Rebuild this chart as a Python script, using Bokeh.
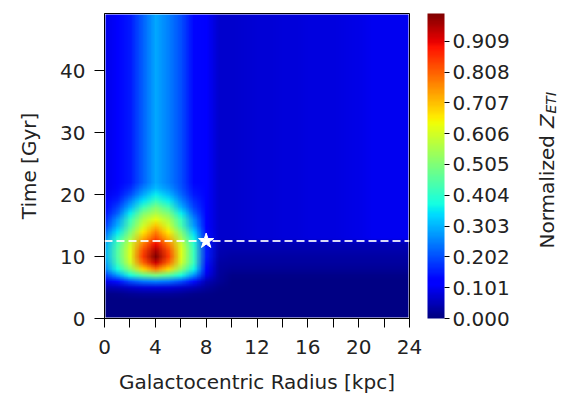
import base64
import struct
import zlib

import numpy as np
from bokeh.plotting import figure
from bokeh.layouts import row
from bokeh.models import LinearColorMapper, ColorBar, FixedTicker, Span, PrintfTickFormatter
from bokeh.core.properties import value
from bokeh.embed import file_html
from bokeh.resources import INLINE

# ---------------- data ----------------
radius_kpc = list(range(25))          # cell centres, kpc
time_gyr = list(range(51))            # cell centres, Gyr

# normalized Z_ETI at late times (t >= 22 Gyr), per radius 0..24
upper_profile = [0.09, 0.12, 0.15, 0.22, 0.29, 0.25, 0.2, 0.13, 0.11, 0.068,
                 0.068, 0.072, 0.075, 0.078, 0.08, 0.082, 0.083, 0.084, 0.085,
                 0.088, 0.092, 0.098, 0.10, 0.10, 0.098]

# outer disc (r >= 10 kpc) for t = 0..12 Gyr
outer_low_by_time = [0.005, 0.005, 0.005, 0.005, 0.005, 0.005, 0.005,
                     0.01, 0.02, 0.03, 0.035, 0.04, 0.045]

# inner disc (r = 0..9 kpc) for t = 0..21 Gyr
inner_rows = {
    0: [0.005] * 10,
    1: [0.005] * 10,
    2: [0.005] * 10,
    3: [0.005] * 10,
    4: [0.01, 0.015, 0.02, 0.025, 0.025, 0.025, 0.02, 0.015, 0.01, 0.005],
    5: [0.04, 0.05, 0.065, 0.075, 0.08, 0.075, 0.065, 0.05, 0.025, 0.01],
    6: [0.09, 0.14, 0.2, 0.24, 0.25, 0.24, 0.2, 0.14, 0.05, 0.02],
    7: [0.18, 0.28, 0.38, 0.46, 0.5, 0.46, 0.38, 0.27, 0.09, 0.025],
    8: [0.25, 0.38, 0.52, 0.68, 0.78, 0.68, 0.52, 0.37, 0.12, 0.03],
    9: [0.28, 0.43, 0.6, 0.8, 0.93, 0.8, 0.6, 0.42, 0.14, 0.035],
    10: [0.3, 0.45, 0.62, 0.85, 1.0, 0.85, 0.62, 0.42, 0.15, 0.04],
    11: [0.3, 0.45, 0.62, 0.83, 0.96, 0.83, 0.62, 0.42, 0.15, 0.045],
    12: [0.29, 0.43, 0.6, 0.78, 0.9, 0.78, 0.6, 0.4, 0.15, 0.05],
    13: [0.26, 0.4, 0.55, 0.72, 0.83, 0.72, 0.55, 0.37, 0.14, 0.068],
    14: [0.22, 0.35, 0.5, 0.66, 0.77, 0.66, 0.5, 0.33, 0.13, 0.068],
    15: [0.18, 0.3, 0.45, 0.6, 0.7, 0.6, 0.44, 0.28, 0.12, 0.068],
    16: [0.16, 0.27, 0.42, 0.56, 0.63, 0.56, 0.42, 0.26, 0.12, 0.068],
    17: [0.14, 0.22, 0.36, 0.5, 0.56, 0.5, 0.36, 0.22, 0.12, 0.068],
    18: [0.12, 0.19, 0.3, 0.42, 0.5, 0.43, 0.3, 0.19, 0.12, 0.068],
    19: [0.11, 0.16, 0.25, 0.35, 0.42, 0.36, 0.26, 0.17, 0.11, 0.068],
    20: [0.1, 0.14, 0.2, 0.29, 0.36, 0.31, 0.23, 0.15, 0.11, 0.068],
    21: [0.09, 0.13, 0.17, 0.25, 0.31, 0.27, 0.21, 0.14, 0.11, 0.068],
}

present_time_gyr = [12.5]
sun_radius_kpc = [8.0]

x_ticks = [0, 4, 8, 12, 16, 20, 24]
x_minor_ticks = [2, 6, 10, 14, 18, 22]
y_ticks = [0, 10, 20, 30, 40]
cbar_ticks = [0.000, 0.101, 0.202, 0.303, 0.404, 0.505, 0.606, 0.707, 0.808, 0.909]

# ---------------- build field table ----------------
field = np.zeros((len(time_gyr), len(radius_kpc)))
for t in time_gyr:
    for r in radius_kpc:
        if t >= 22:
            v = upper_profile[r]
        elif r <= 9:
            v = inner_rows[t][r]
        elif t >= 13:
            v = upper_profile[r]
        else:
            v = outer_low_by_time[t]
        field[t, r] = v

# jet colormap
xs = np.linspace(0, 1, 256)
rr = np.interp(xs, [0, 0.35, 0.66, 0.89, 1], [0, 0, 1, 1, 0.5])
gg = np.interp(xs, [0, 0.125, 0.375, 0.64, 0.91, 1], [0, 0, 1, 1, 0, 0])
bb = np.interp(xs, [0, 0.11, 0.34, 0.65, 1], [0.5, 1, 1, 0, 0])
jet_rgb = [(int(round(a * 255)), int(round(b * 255)), int(round(c * 255))) for a, b, c in zip(rr, gg, bb)]
jet = ["#%02x%02x%02x" % c for c in jet_rgb]

mapper = LinearColorMapper(palette=jet, low=0.0, high=1.0)


# colour the field cells with the same jet mapping and wrap them in a PNG
def field_png(arr):
    h, w = arr.shape
    rows = []
    for i in range(h - 1, -1, -1):          # top row = latest time
        line = bytearray([0])
        for j in range(w):
            idx = int(min(255, max(0, np.floor(arr[i, j] * 256))))
            line.extend(jet_rgb[idx])
        rows.append(bytes(line))
    raw = b"".join(rows)

    def chunk(tag, data):
        return (struct.pack(">I", len(data)) + tag + data +
                struct.pack(">I", zlib.crc32(tag + data) & 0xFFFFFFFF))

    ihdr = struct.pack(">IIBBBBB", w, h, 8, 2, 0, 0, 0)
    png = (b"\x89PNG\r\n\x1a\n" + chunk(b"IHDR", ihdr) +
           chunk(b"IDAT", zlib.compress(raw, 9)) + chunk(b"IEND", b""))
    return "data:image/png;base64," + base64.b64encode(png).decode("ascii")


FONT = "DejaVu Sans"
TXT = "#222222"
FS = "20px"

p = figure(width=534, height=397, x_range=(0, 24), y_range=(0, 49.2),
           output_backend="svg", toolbar_location=None,
           min_border_left=104, min_border_top=13, min_border_right=125, min_border_bottom=79)

p.image_url(url=[field_png(field)], x=radius_kpc[0] - 0.5, y=time_gyr[-1] + 0.5,
            w=len(radius_kpc), h=len(time_gyr), anchor="top_left")

p.add_layout(Span(location=present_time_gyr[0], dimension="width", line_color="white",
                  line_alpha=0.85, line_width=2, line_dash="8 4"))
p.scatter(x=sun_radius_kpc, y=present_time_gyr, marker="star", size=16,
          fill_color="white", line_color="white")

p.grid.visible = False
p.outline_line_color = "black"
p.outline_line_width = 1
p.background_fill_color = "white"

for ax in (p.xaxis[0], p.yaxis[0]):
    ax.axis_line_color = "black"
    ax.major_tick_line_color = "black"
    ax.minor_tick_line_color = "black"
    ax.major_tick_in = 0
    ax.minor_tick_in = 0
    ax.major_label_text_font = FONT
    ax.major_label_text_font_size = FS
    ax.major_label_text_color = TXT
    ax.axis_label_text_font = FONT
    ax.axis_label_text_font_size = FS
    ax.axis_label_text_font_style = "normal"
    ax.axis_label_text_color = TXT

p.xaxis.ticker = FixedTicker(ticks=x_ticks, minor_ticks=x_minor_ticks)
p.xaxis.major_tick_out = 9
p.xaxis.minor_tick_out = 9
p.xaxis.major_label_standoff = 12
p.xaxis.axis_label = "Galactocentric Radius [kpc]"
p.xaxis.axis_label_standoff = 13

p.yaxis.ticker = FixedTicker(ticks=y_ticks, minor_ticks=[])
p.yaxis.major_tick_out = 10
p.yaxis.major_label_standoff = 9
p.yaxis.axis_label = "Time [Gyr]"
p.yaxis.axis_label_standoff = 16

cb = ColorBar(color_mapper=mapper, ticker=FixedTicker(ticks=cbar_ticks, minor_ticks=[]),
              formatter=PrintfTickFormatter(format="%.3f"),
              location=(323, 0), width=17, height=305, margin=0, padding=0,
              major_tick_out=5, major_tick_in=0, major_tick_line_color="black",
              label_standoff=3, bar_line_color=None, border_line_color=None,
              background_fill_alpha=0,
              major_label_text_font=FONT, major_label_text_font_size=FS,
              major_label_text_color=TXT)
p.add_layout(cb, "center")

# strip on the right holding the rotated colour-bar title "Normalized Z_ETI"
# (its frame is aligned with the main frame: 1 unit = 1 px up from the frame bottom)
q = figure(width=44, height=397, x_range=(0, 44), y_range=(0, 305),
           output_backend="svg", toolbar_location=None, min_border=0,
           x_axis_type=None, y_axis_type=None)
q.outline_line_color = None
q.grid.visible = False
q.background_fill_color = "white"
q.border_fill_color = "white"

txt_kw = dict(angle=np.pi / 2, text_align="left", text_baseline="alphabetic",
              text_font=value(FONT), text_color=TXT)
q.text(x=[12.7], y=[70], text=["Normalized"], text_font_size=value(FS), **txt_kw)
q.text(x=[12.7], y=[190.5], text=["Z"], text_font_size=value(FS),
       text_font_style="italic", **txt_kw)
q.text(x=[16.7], y=[205], text=["ETI"], text_font_size=value("14px"),
       text_font_style="italic", **txt_kw)

layout = row(p, q, spacing=0)
open("out.html", "w").write(file_html(layout, INLINE))
